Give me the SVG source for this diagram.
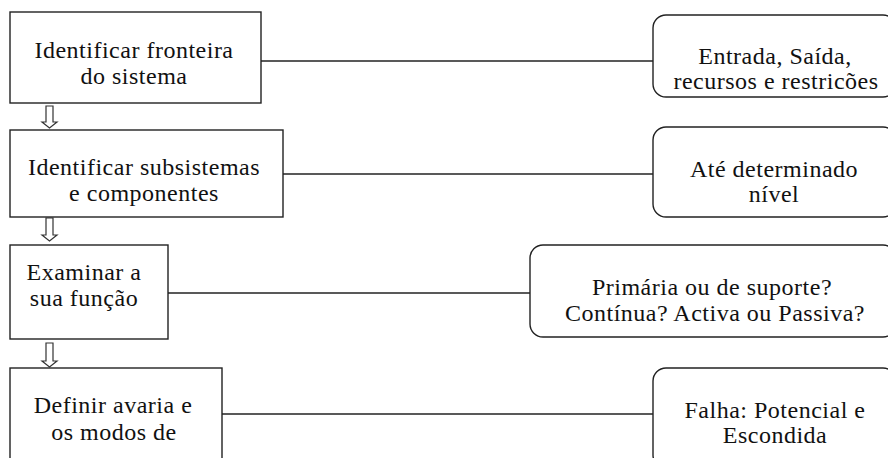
<svg xmlns="http://www.w3.org/2000/svg" width="888" height="458" viewBox="0 0 888 458">
<style>
.box{fill:#fff;stroke:#222;stroke-width:1.4}
.rbox{fill:#fff;stroke:#222;stroke-width:1.4}
.arr{fill:#fff;stroke:#333;stroke-width:1.2;stroke-linejoin:miter}
.ln{stroke:#222;stroke-width:1.4;fill:none}
.t{font-family:"Liberation Serif",serif;font-size:24px;letter-spacing:0.5px;fill:#111;text-anchor:middle}
</style>
<rect width="888" height="458" fill="#fff"/>
<g id="connectors">
<line class="ln" x1="261" y1="61" x2="653" y2="61"/>
<line class="ln" x1="283" y1="174" x2="653" y2="174"/>
<line class="ln" x1="168" y1="293" x2="530" y2="293"/>
<line class="ln" x1="222" y1="414" x2="653" y2="414"/>
<polygon class="arr" points="46,106 53,106 53,122 57,122 49.5,128 42,122 46,122"/>
<polygon class="arr" points="46,218 53,218 53,235 57,235 49.5,241 42,235 46,235"/>
<polygon class="arr" points="46,343 53,343 53,361 57,361 49.5,367 42,361 46,361"/>
</g>
<g id="n1">
<rect class="box" x="10" y="12" width="251" height="91"/>
<text class="t" x="134" y="58">Identificar fronteira</text>
<text class="t" x="134" y="84">do sistema</text>
</g>
<g id="n2">
<rect class="box" x="10" y="130" width="273" height="87"/>
<text class="t" x="144" y="175">Identificar subsistemas</text>
<text class="t" x="144" y="201">e componentes</text>
</g>
<g id="n3">
<rect class="box" x="10" y="245" width="158" height="94"/>
<text class="t" x="84" y="280">Examinar a</text>
<text class="t" x="84" y="306">sua função</text>
</g>
<g id="n4">
<rect class="box" x="10" y="368" width="212" height="100"/>
<text class="t" x="113" y="413">Definir avaria e</text>
<text class="t" x="114" y="440">os modos de</text>
</g>
<g id="r1">
<rect class="rbox" x="653" y="15" width="243" height="82" rx="13"/>
<text class="t" x="775" y="64">Entrada, Saída,</text>
<text class="t" x="776" y="89">recursos e restricões</text>
</g>
<g id="r2">
<rect class="rbox" x="653" y="127" width="243" height="90" rx="13"/>
<text class="t" x="774" y="177">Até determinado</text>
<text class="t" x="774" y="202">nível</text>
</g>
<g id="r3">
<rect class="rbox" x="530" y="245" width="366" height="92" rx="13"/>
<text class="t" x="712" y="295">Primária ou de suporte?</text>
<text class="t" x="715" y="321">Contínua? Activa ou Passiva?</text>
</g>
<g id="r4">
<rect class="rbox" x="653" y="368" width="243" height="100" rx="13"/>
<text class="t" x="775" y="418">Falha: Potencial e</text>
<text class="t" x="775" y="443">Escondida</text>
</g>
</svg>
